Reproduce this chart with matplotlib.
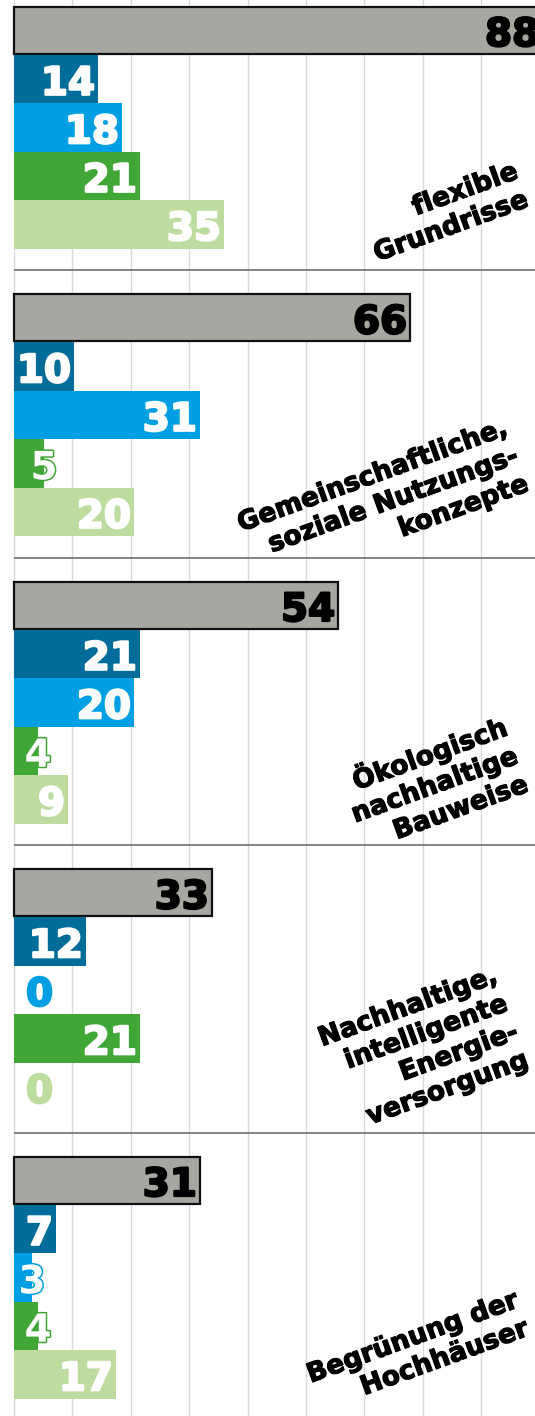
import numpy as np
import matplotlib
matplotlib.use("Agg")
import matplotlib.pyplot as plt
import matplotlib.patheffects as pe
import matplotlib.transforms as mtransforms

# ---------------- data ----------------
categories = [
    "flexible\nGrundrisse",
    "Gemeinschaftliche,\nsoziale Nutzungs-\nkonzepte",
    "Ökologisch\nnachhaltige\nBauweise",
    "Nachhaltige,\nintelligente\nEnergie-\nversorgung",
    "Begrünung der\nHochhäuser",
]
total = [88, 66, 54, 33, 31]
series_a = [14, 10, 21, 12, 7]    # dark blue
series_b = [18, 31, 20, 0, 3]     # light blue
series_c = [21, 5, 4, 21, 4]      # green
series_d = [35, 20, 9, 0, 17]     # light green

# ---------------- style ----------------
GRAY = "#a7a6a1"
COLORS = ["#006c99", "#009fe3", "#40a636", "#bfdca0"]
FONT = "DejaVu Sans"

W, H = 535, 1416
fig = plt.figure(figsize=(W / 100, H / 100), dpi=100)
ax = fig.add_axes([0, 0, 1, 1])
PX = 6.0           # pixels per unit
X0 = 14            # pixel of zero
ax.set_xlim(-X0 / PX, (W - X0) / PX)
ax.set_ylim(H, 0)  # vertical layout in pixel rows
ax.axis("off")

# vertical grid
grid_step = 58.4 / PX
for gx in np.arange(0, (W - X0) / PX, grid_step):
    ax.axvline(gx, color="#d9d9d9", lw=1.0, zorder=0)

pitch = 287.5
slot = 48.5
label_dy = [229, 226, 239, 227, 208]
blend = mtransforms.blended_transform_factory(ax.transAxes, ax.transData)

def heavy(c, w=1.6):
    return [pe.withStroke(linewidth=w, foreground=c)]

series = [series_a, series_b, series_c, series_d]
for g in range(len(categories)):
    top = -17.5 + pitch * g
    if g > 0:
        ax.hlines(top, 0, (W - X0) / PX + 1, color="#6e6e6e", lw=1.2, zorder=1)
    # total bar
    yc = top + 47.5
    ax.barh(yc, total[g], height=47, color=GRAY, edgecolor="#111111",
            linewidth=1.6, zorder=3)
    ax.text(total[g] - 0.5, yc + 16, str(total[g]), ha="right", va="baseline",
            fontsize=28, fontweight="bold", family=FONT, color="black", zorder=5,
            path_effects=heavy("black"))
    for k, s in enumerate(series):
        v = s[g]
        yc = top + 72 + slot / 2 + slot * k
        ax.barh(yc, v, height=slot, color=COLORS[k], linewidth=0, zorder=3)
        if v == 0:
            ax.text(4.25, yc + 16, "0", ha="center", va="baseline",
                    fontsize=28, fontweight="bold", family=FONT,
                    color=COLORS[k], zorder=5, path_effects=heavy(COLORS[k]))
        elif v < 7:
            ax.text(v, yc + 16, str(v), ha="center", va="baseline",
                    fontsize=28, fontweight="bold", family=FONT, color="white",
                    zorder=5,
                    path_effects=[pe.withStroke(linewidth=2.2, foreground=COLORS[k])])
        else:
            ax.text(v - 0.5, yc + 16, str(v), ha="right", va="baseline",
                    fontsize=28, fontweight="bold", family=FONT, color="white",
                    zorder=5, path_effects=heavy("white"))
    # category label
    ax.text(532 / W, top + label_dy[g], categories[g], transform=blend,
            rotation=20, rotation_mode="anchor", ha="right", va="bottom",
            multialignment="right", fontsize=19, fontweight="bold",
            family=FONT, color="black", linespacing=1.2, zorder=6,
            path_effects=heavy("black", 0.9))

fig.savefig("out.png", dpi=100)
